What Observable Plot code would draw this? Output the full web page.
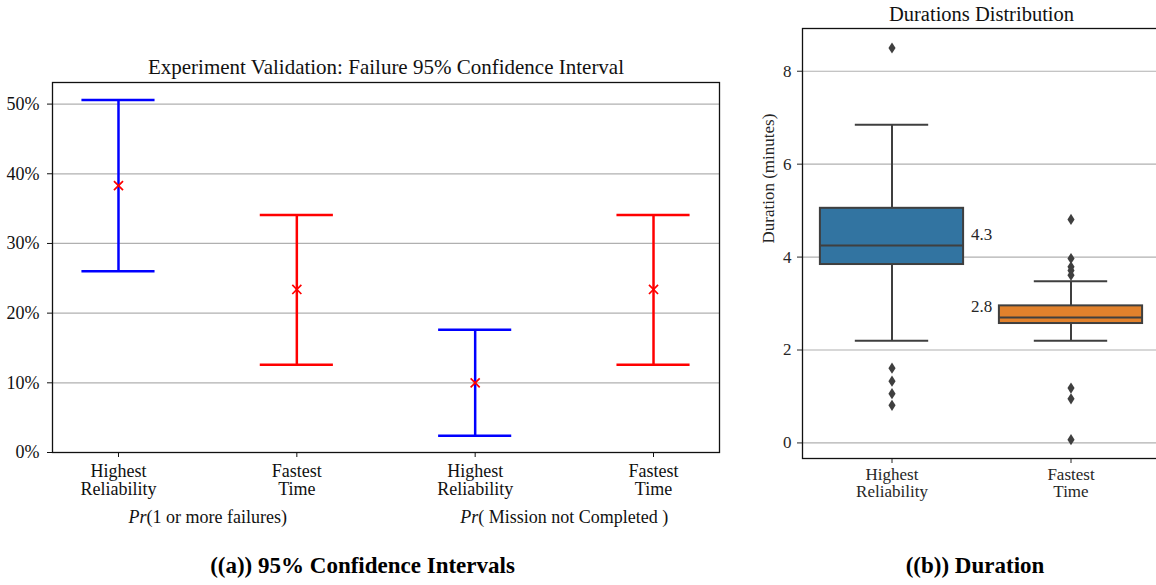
<!DOCTYPE html>
<html><head><meta charset="utf-8">
<script src="https://cdn.jsdelivr.net/npm/d3@7"></script>
<script src="https://cdn.jsdelivr.net/npm/@observablehq/plot@0.6"></script>
<style>
html,body{margin:0;padding:0;background:#fff;overflow:hidden;width:1156px;height:585px;}
#wrap{position:relative;width:1156px;height:585px;overflow:hidden;}
.panel{position:absolute;top:0;}
.cap{position:absolute;font-family:"Liberation Serif",serif;font-weight:bold;font-size:23px;color:#000;transform:translate(-50%,-50%);white-space:nowrap;}
</style></head><body><div id="wrap"></div>
<script>
// ---- Panel (a): 95% confidence intervals ----
const ciCategories = ["Highest\nReliability", "Fastest\nTime", "Highest\nReliability", "Fastest\nTime"];
const ciGroups = ["Pr(1 or more failures)", "Pr( Mission not Completed )"];
const ciLower = [26.0, 12.6, 2.4, 12.6];
const ciUpper = [50.6, 34.1, 17.6, 34.1];
const ciEstimate = [38.3, 23.4, 10.0, 23.4];
const ciColors = ["#0000ff", "#ff0000", "#0000ff", "#ff0000"];
const ciTicks = [0, 10, 20, 30, 40, 50];
const ciTitle = "Experiment Validation: Failure 95% Confidence Interval";

// ---- Panel (b): duration box plots ----
const boxCategories = ["Highest\nReliability", "Fastest\nTime"];
const boxQ1 = [3.84, 2.57];
const boxMedian = [4.25, 2.70];
const boxQ3 = [5.05, 2.95];
const whiskerLow = [2.2, 2.2];
const whiskerHigh = [6.85, 3.48];
const outliersHR = [8.5, 1.61, 1.33, 1.06, 0.81];
const outliersFT = [4.81, 3.97, 3.79, 3.71, 3.61, 1.18, 0.95, 0.07];
const boxColors = ["#3274a1", "#e1812c"];
const medianLabels = ["4.3", "2.8"];
const durTicks = [0, 2, 4, 6, 8];
const durTitle = "Durations Distribution";
const durLabel = "Duration (minutes)";

const captions = ["((a)) 95% Confidence Intervals", "((b)) Duration"];

const FONT = '"Liberation Serif", "Times New Roman", serif';
const wrap = document.getElementById("wrap");

// rows
const ciRows = ciCategories.map((c, i) => ({i, lo: ciLower[i], hi: ciUpper[i], est: ciEstimate[i], color: ciColors[i]}));
const capHalf = 0.205;

const left = Plot.plot({
  width: 740, height: 540,
  marginLeft: 52, marginRight: 21, marginTop: 82, marginBottom: 88,
  style: {fontFamily: FONT, fontSize: "18px", color: "#111", background: "transparent", overflow: "visible"},
  x: {domain: [-0.37, 3.37], axis: null},
  y: {domain: [0, 53.1], axis: null},
  color: {type: "identity"},
  marks: [
    Plot.gridY(ciTicks.slice(1), {stroke: "#b0b0b0", strokeOpacity: 1, strokeWidth: 1.3}),
    Plot.axisY(ciTicks, {tickFormat: d => d + "%", tickSize: 5, tickPadding: 8, label: null, fontSize: 18}),
    Plot.axisX(d3.range(ciCategories.length), {tickFormat: i => ciCategories[i], tickSize: 5, tickPadding: 7, label: null, fontSize: 18}),
    Plot.ruleX(ciRows, {x: "i", y1: "lo", y2: "hi", stroke: "color", strokeWidth: 2.5}),
    Plot.ruleY(ciRows, {y: "hi", x1: d => d.i - capHalf, x2: d => d.i + capHalf, stroke: "color", strokeWidth: 2.5}),
    Plot.ruleY(ciRows, {y: "lo", x1: d => d.i - capHalf, x2: d => d.i + capHalf, stroke: "color", strokeWidth: 2.5}),
    Plot.dot(ciRows, {x: "i", y: "est", symbol: "times", r: 4.2, stroke: "#ff0000", strokeWidth: 1.7}),
    Plot.frame({stroke: "#111", strokeWidth: 1.3}),
    Plot.text(ciGroups, {x: (d, i) => 2 * i + 0.5, frameAnchor: "bottom", lineAnchor: "middle", dy: 65, fontSize: 18, fill: "#111"}),
    Plot.text([ciTitle], {frameAnchor: "top", lineAnchor: "middle", dy: -15, fontSize: 21, fill: "#111"})
  ]
});
left.classList.add("panel");
left.style.left = "0px";
wrap.appendChild(left);

// italic "Pr"
d3.select(left).selectAll("text").each(function() {
  const t = this.textContent;
  if (t.startsWith("Pr(") && this.children.length === 0) {
    const s = d3.select(this);
    s.text(null);
    s.append("tspan").attr("font-style", "italic").text("Pr");
    s.append("tspan").text(t.slice(2));
  }
});

const boxes = boxCategories.map((c, i) => ({i, q1: boxQ1[i], med: boxMedian[i], q3: boxQ3[i], lo: whiskerLow[i], hi: whiskerHigh[i], color: boxColors[i], label: medianLabels[i]}));
const outliers = [
  ...outliersHR.map(v => ({i: 0, v})),
  ...outliersFT.map(v => ({i: 1, v}))
];
const thinDiamond = {
  draw(ctx, size) {
    const r = Math.sqrt(size / Math.PI);
    const w = r * 0.64;
    ctx.moveTo(0, -r); ctx.lineTo(w, 0); ctx.lineTo(0, r); ctx.lineTo(-w, 0); ctx.closePath();
  }
};
const LINE = "#3f3f3f";
const boxHalf = 0.4, whiskHalf = 0.205;

const right = Plot.plot({
  width: 420, height: 540,
  marginLeft: 62, marginRight: 0, marginTop: 28, marginBottom: 82,
  style: {fontFamily: FONT, fontSize: "17px", color: "#262626", background: "transparent", overflow: "visible"},
  x: {domain: [-0.5, 1.5], axis: null},
  y: {domain: [-0.335, 8.92], axis: null},
  color: {type: "identity"},
  marks: [
    Plot.gridY(durTicks, {stroke: "#b0b0b0", strokeOpacity: 1, strokeWidth: 1.2}),
    Plot.axisY(durTicks, {tickSize: 5, tickPadding: 6, label: null, fontSize: 17}),
    Plot.axisX(d3.range(boxCategories.length), {tickFormat: i => boxCategories[i], tickSize: 5, tickPadding: 4, label: null, fontSize: 17}),
    Plot.ruleX(boxes, {x: "i", y1: "q3", y2: "hi", stroke: LINE, strokeWidth: 2}),
    Plot.ruleX(boxes, {x: "i", y1: "lo", y2: "q1", stroke: LINE, strokeWidth: 2}),
    Plot.ruleY(boxes, {y: "hi", x1: d => d.i - whiskHalf, x2: d => d.i + whiskHalf, stroke: LINE, strokeWidth: 2}),
    Plot.ruleY(boxes, {y: "lo", x1: d => d.i - whiskHalf, x2: d => d.i + whiskHalf, stroke: LINE, strokeWidth: 2}),
    Plot.rect(boxes, {x1: d => d.i - boxHalf, x2: d => d.i + boxHalf, y1: "q1", y2: "q3", fill: "color", stroke: LINE, strokeWidth: 2}),
    Plot.ruleY(boxes, {y: "med", x1: d => d.i - boxHalf, x2: d => d.i + boxHalf, stroke: LINE, strokeWidth: 2}),
    Plot.dot(outliers, {x: "i", y: "v", symbol: thinDiamond, r: 5.6, fill: LINE, stroke: "none"}),
    Plot.text(boxes, {x: d => 0.5, y: "med", text: "label", dy: -11, fontSize: 17, fill: "#262626"}),
    Plot.frame({stroke: "#111", strokeWidth: 1.3}),
    Plot.text([durLabel], {frameAnchor: "left", rotate: -90, dx: -34, fontSize: 17, fill: "#262626"}),
    Plot.text([durTitle], {frameAnchor: "top", lineAnchor: "middle", dy: -14, fontSize: 20.5, fill: "#111"})
  ]
});
right.classList.add("panel");
right.style.left = "740px";
wrap.appendChild(right);

// captions
[[captions[0], 362.5], [captions[1], 975]].forEach(([t, x]) => {
  const d = document.createElement("div");
  d.className = "cap";
  d.textContent = t;
  d.style.left = x + "px";
  d.style.top = "566px";
  wrap.appendChild(d);
});
</script>
</body></html>
